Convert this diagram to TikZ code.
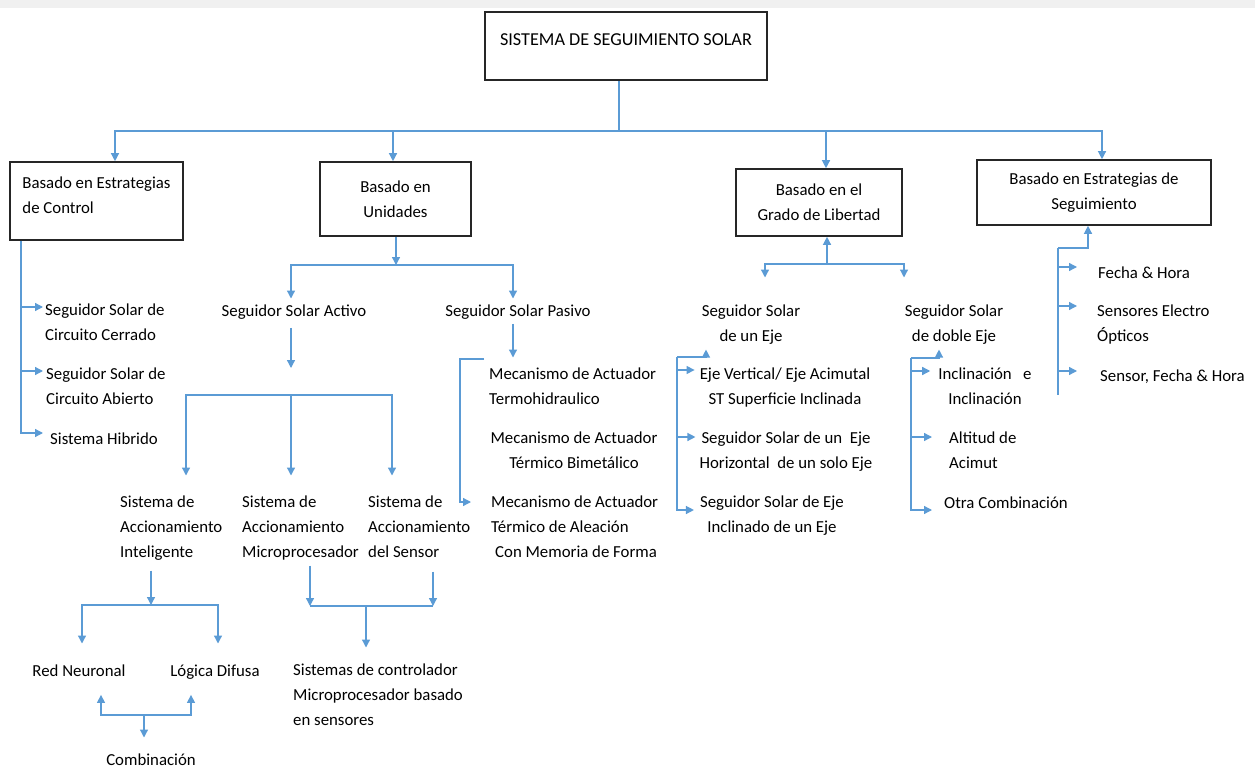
\documentclass[tikz,border=0pt]{standalone}
\usepackage{fontspec}
\setmainfont{Carlito}
\usetikzlibrary{arrows.meta, positioning, calc}
\definecolor{linkblue}{HTML}{5B9BD5}
\newcommand{\diagfont}{\fontsize{16.8}{25}\selectfont}
\newcommand{\rootfont}{\fontsize{18.2}{25}\selectfont}

\begin{document}
\begin{tikzpicture}[
    x=1pt, y=-1pt,
    box/.style={rectangle, draw=black!85, line width=1.6pt, align=center, inner sep=0pt, font=\diagfont},
    leaf/.style={inner sep=0pt, anchor=north west, align=left, font=\diagfont, execute at begin node=\strut},
    link/.style={line width=1.3pt, draw=linkblue},
    arrow/.style={link, -{Triangle[length=8pt, width=8pt]}}
  ]
    \useasboundingbox (0,0) rectangle (1255,770);
    \fill[black!6] (0,0) rectangle (1255,8);

    % Root
    \node[box, font=\rootfont, minimum width=282pt, minimum height=68pt, text depth=12pt] (root) at (626,46) {SISTEMA DE SEGUIMIENTO SOLAR};

    % First level
    \node[box, minimum width=173pt, minimum height=78pt, text depth=11pt, align=left] (ctrl) at (96.5,201) {Basado en Estrategias\\de Control};
    \node[box, minimum width=151pt, minimum height=74pt] (uni) at (395.5,199) {Basado en\\Unidades};
    \node[box, minimum width=166pt, minimum height=67pt] (grado) at (819,202.5) {Basado en el\\Grado de Libertad};
    \node[box, minimum width=234pt, minimum height=65pt] (seg) at (1094,192.5) {Basado en Estrategias de\\Seguimiento};

    % Estrategias de control
    \node[leaf] (cerrado) at (45,304) {Seguidor Solar de\\Circuito Cerrado};
    \node[leaf] (abierto) at (46,368) {Seguidor Solar de\\Circuito Abierto};
    \node[leaf] (hibrido) at (50,426.5) {Sistema Hibrido};

    % Unidades
    \node[leaf, anchor=north] (activo) at (294,298.5) {Seguidor Solar Activo};
    \node[leaf, anchor=north] (pasivo) at (518,298.5) {Seguidor Solar Pasivo};
    \node[leaf] (intel) at (120,496) {Sistema de\\Accionamiento\\Inteligente};
    \node[leaf] (micro) at (242,496) {Sistema de\\Accionamiento\\Microprocesador};
    \node[leaf] (sensor) at (368,496) {Sistema de\\Accionamiento\\del Sensor};
    \node[leaf, anchor=north] (red) at (79,658.5) {Red Neuronal};
    \node[leaf, anchor=north] (difusa) at (215,658.5) {Lógica Difusa};
    \node[leaf, anchor=north] (comb) at (151,747.5) {Combinación};
    \node[leaf] (ctrlmicro) at (293,664) {Sistemas de controlador\\Microprocesador basado\\en sensores};
    \node[leaf] (termo) at (489,368) {Mecanismo de Actuador\\Termohidraulico};
    \node[leaf, anchor=north, align=center] (bimet) at (574,432) {Mecanismo de Actuador\\Térmico Bimetálico};
    \node[leaf] (alea) at (491,496) {Mecanismo de Actuador\\Térmico de Aleación\\\hspace*{4pt}Con Memoria de Forma};

    % Grado de libertad
    \node[leaf, anchor=north, align=center] (uneje) at (751,305) {Seguidor Solar\\de un Eje};
    \node[leaf, anchor=north, align=center] (doble) at (954,305) {Seguidor Solar\\de doble Eje};
    \node[leaf, anchor=north, align=center] (vert) at (785,368) {Eje Vertical/ Eje Acimutal\\ST Superficie Inclinada};
    \node[leaf, anchor=north, align=center] (horiz) at (786,432) {Seguidor Solar de un\ \ Eje\\Horizontal\ \ de un solo Eje};
    \node[leaf, anchor=north, align=center] (incl) at (772,496) {Seguidor Solar de Eje\\Inclinado de un Eje};
    \node[leaf, anchor=north, align=center] (incinc) at (985,368) {Inclinación\ \ \ e\\Inclinación};
    \node[leaf] (altitud) at (949,432) {Altitud de\\Acimut};
    \node[leaf] (otra) at (944,490.5) {Otra Combinación};

    % Estrategias de seguimiento
    \node[leaf] (fecha) at (1098,260.5) {Fecha \& Hora};
    \node[leaf] (optico) at (1097,305) {Sensores Electro\\Ópticos};
    \node[leaf] (sfh) at (1100,363.5) {Sensor, Fecha \& Hora};

    % Connections
    \coordinate (rb) at (619,131);
    \draw[link] (root.south -| rb) -- (rb);
    \draw[arrow] (rb) -| ([xshift=18.5pt]ctrl.north);
    \draw[arrow] (rb) -| ([xshift=-2.5pt]uni.north);
    \draw[arrow] (rb) -| ([xshift=7pt]grado.north);
    \draw[arrow] (rb) -| ([xshift=8pt]seg.north);

    \coordinate (cs) at (ctrl.south -| 21,0);
    \draw[arrow] (cs) |- ([xshift=-2pt]cerrado.west |- 0,307);
    \draw[arrow] (cs) |- ([xshift=-3pt]abierto.west |- 0,371);
    \draw[arrow] (cs) |- ([xshift=-7pt]hibrido.west |- 0,433);

    \coordinate (ub) at (396,265);
    \draw[arrow] (uni.south -| ub) -- (ub);
    \draw[arrow] (ub) -| ([xshift=-3pt]activo.north);
    \draw[arrow] (ub) -| ([xshift=-5pt]pasivo.north);

    \coordinate (ab) at (291,395);
    \draw[arrow, shorten <=4pt, shorten >=27pt] (activo.south -| ab) -- (ab);
    \draw[arrow, shorten >=20.5pt] (ab) -| ([xshift=66pt]intel.north west);
    \draw[arrow, shorten >=20.5pt] (ab) -| ([xshift=49pt]micro.north west);
    \draw[arrow, shorten >=20.5pt] (ab) -| ([xshift=24pt]sensor.north west);

    \coordinate (ib) at (151,605);
    \draw[arrow, shorten <=5pt] (intel.south -| ib) -- (ib);
    \draw[arrow, shorten >=15pt] (ib) -| ([xshift=3pt]red.north);
    \draw[arrow, shorten >=15pt] (ib) -| ([xshift=3pt]difusa.north);
    \coordinate (cb) at (144,715);
    \draw[arrow, shorten >=10pt] (cb) -- (cb |- comb.north);
    \draw[arrow, shorten >=11pt] (cb) -| ([xshift=22pt]red.south);
    \draw[arrow, shorten >=11pt] (cb) -| ([xshift=-24pt]difusa.south);

    \coordinate (mbl) at (310,606);
    \coordinate (mbr) at (433,606);
    \coordinate (mb) at (366,606);
    \draw[arrow] (micro.south -| mbl) -- (mbl);
    \draw[arrow, shorten <=6pt] (sensor.south -| mbr) -- (mbr);
    \draw[link] (mbl) -- (mbr);
    \draw[arrow, shorten >=16.5pt] (mb) -- (mb |- ctrlmicro.north);

    \draw[arrow, shorten >=10.5pt] ([xshift=-5pt]pasivo.south) -- ([xshift=-5pt]pasivo.south |- termo.north);
    \coordinate (pl) at (460,359);
    \draw[arrow] ([xshift=-5pt, yshift=9pt]termo.north west) -- (pl) |- ([xshift=-20pt]alea.north west |- 0,502);

    \coordinate (gb) at (827,264);
    \draw[arrow] (gb) -- (gb |- grado.south);
    \draw[arrow, shorten >=27.5pt] (gb) -| ([xshift=14pt]uneje.north);
    \draw[arrow, shorten >=27.5pt] (gb) -| ([xshift=-50pt]doble.north);

    \coordinate (us) at (677,357);
    \draw[arrow] (us) -| ([xshift=-45pt]uneje.south);
    \draw[arrow] (us) |- ([xshift=-5pt]vert.west |- 0,370);
    \draw[arrow] (us) |- ([xshift=-4pt]horiz.west |- 0,437);
    \draw[arrow] (us) |- ([xshift=-6pt]incl.west |- 0,510);

    \coordinate (ds) at (911,358);
    \draw[arrow] (ds) -| ([xshift=-15pt]doble.south);
    \draw[arrow] (ds) |- ([xshift=-8pt]incinc.west |- 0,371);
    \draw[arrow] (ds) |- ([xshift=-17pt]altitud.west |- 0,437);
    \draw[arrow] (ds) |- ([xshift=-12pt]otra.west |- 0,510);

    \coordinate (ss) at (1058,248);
    \coordinate (ssb) at (1058,395);
    \draw[link] (ss) -- (ssb);
    \draw[arrow] (ss) -| ([xshift=-6pt]seg.south);
    \draw[arrow] (ss) |- ([xshift=-21pt]fecha.west |- 0,267);
    \draw[arrow] (ss) |- ([xshift=-20pt]optico.west |- 0,306);
    \draw[arrow] (ss) |- ([xshift=-23pt]sfh.west |- 0,371);
\end{tikzpicture}
\end{document}
